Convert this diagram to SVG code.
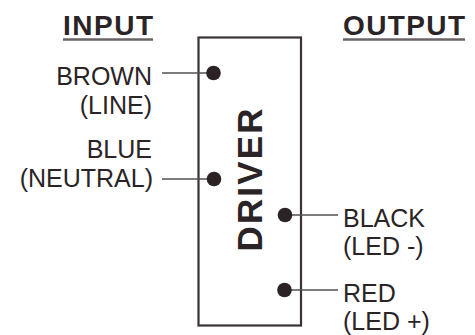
<svg xmlns="http://www.w3.org/2000/svg" width="475" height="335" viewBox="0 0 475 335">
<style>
.hd{font-family:"Liberation Sans",Arial,sans-serif;font-weight:bold;font-size:28px;fill:#2a2426}
.lb{font-family:"Liberation Sans",Arial,sans-serif;font-size:25px;fill:#2a2426}
.ul{stroke:#6a6466;stroke-width:2.5}
.wire{stroke:#555052;stroke-width:1.6;fill:none}
.dot{fill:#2b2224}
</style>
<rect width="475" height="335" fill="#ffffff"/>
<g id="input-header">
<text class="hd" x="63" y="35" textLength="90" lengthAdjust="spacing">INPUT</text>
<line class="ul" x1="63" y1="39.5" x2="153" y2="39.5"/>
</g>
<g id="output-header">
<text class="hd" x="343" y="34.5" textLength="122" lengthAdjust="spacing">OUTPUT</text>
<line class="ul" x1="343" y1="39.5" x2="465" y2="39.5"/>
</g>
<g id="driver">
<rect x="198.5" y="37.5" width="102.5" height="288" fill="none" stroke="#3a3234" stroke-width="2.2"/>
<text class="hd" font-size="35" style="font-size:35px" transform="translate(261.5,180) rotate(-90)" text-anchor="middle" textLength="143" lengthAdjust="spacing">DRIVER</text>
</g>
<g id="connectors">
<line class="wire" x1="162" y1="73" x2="214" y2="73"/>
<line class="wire" x1="162" y1="179" x2="214" y2="179"/>
<line class="wire" x1="285" y1="215" x2="338" y2="215"/>
<line class="wire" x1="285" y1="290" x2="338" y2="290"/>
</g>
<g id="brown">
<circle class="dot" cx="213.5" cy="73" r="7.3"/>
<text class="lb" x="152" y="85" text-anchor="end">BROWN</text>
<text class="lb" x="152" y="113.5" text-anchor="end">(LINE)</text>
</g>
<g id="blue">
<circle class="dot" cx="214" cy="179" r="7.3"/>
<text class="lb" x="152" y="158" text-anchor="end">BLUE</text>
<text class="lb" x="153" y="187" text-anchor="end">(NEUTRAL)</text>
</g>
<g id="black">
<circle class="dot" cx="285" cy="215" r="7.3"/>
<text class="lb" x="343" y="226.5">BLACK</text>
<text class="lb" x="343" y="255">(LED -)</text>
</g>
<g id="red">
<circle class="dot" cx="284.5" cy="290" r="7.3"/>
<text class="lb" x="343" y="301.5">RED</text>
<text class="lb" x="343" y="330">(LED +)</text>
</g>
</svg>
